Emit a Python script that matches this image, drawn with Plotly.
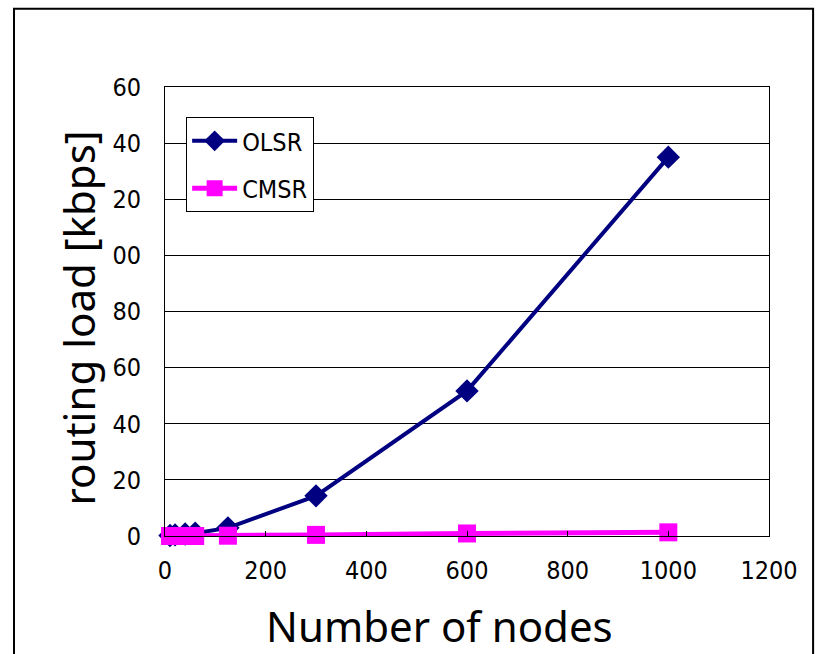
import plotly.graph_objects as go

nodes = [10, 20, 40, 60, 125, 300, 600, 1000]
olsr = [0.2, 0.4, 0.7, 1.0, 2.9, 14.3, 51.7, 135.0]
cmsr = [0.0, 0.0, 0.0, 0.0, 0.1, 0.4, 0.9, 1.3]

y_tickvals = [0, 20, 40, 60, 80, 100, 120, 140, 160]
y_ticktext = ["0", "20", "40", "60", "80", "00", "20", "40", "60"]
x_tickvals = [0, 200, 400, 600, 800, 1000, 1200]

x_title = "Number of nodes"
y_title = "routing load [kbps]"

narrow = "Liberation Sans Narrow, DejaVu Sans Condensed, sans-serif"
tick_font = dict(family=narrow, size=25, color="black")
title_font = dict(family="Noto Sans, Lato, sans-serif", size=42, color="black")

fig = go.Figure()
fig.add_trace(go.Scatter(x=nodes, y=olsr, mode="lines+markers", name="OLSR", legendgroup="a",
                         cliponaxis=False,
                         line=dict(color="#000080", width=4),
                         marker=dict(symbol="diamond", size=18, color="#000080")))
fig.add_trace(go.Scatter(x=nodes, y=cmsr, mode="lines+markers", name="CMSR", legendgroup="b",
                         cliponaxis=False,
                         line=dict(color="#FF00FF", width=5),
                         marker=dict(symbol="square", size=18, color="#FF00FF")))

fig.update_layout(
    width=821, height=654,
    margin=dict(l=165, r=52, t=87, b=118),
    paper_bgcolor="white", plot_bgcolor="white",
    showlegend=True,
    legend=dict(x=0.035, y=0.933, xanchor="left", yanchor="top",
                bgcolor="white", bordercolor="black", borderwidth=1,
                font=dict(family=narrow, size=25, color="black"),
                itemwidth=45, tracegroupgap=12),
    xaxis=dict(range=[0, 1200], tickvals=x_tickvals, ticks="inside", ticklen=5, tickcolor="black",
               showline=True, linecolor="black", linewidth=1, mirror=True, showgrid=False, zeroline=False,
               tickfont=tick_font, ticklabelstandoff=12),
    yaxis=dict(range=[0, 160], tickvals=y_tickvals, ticktext=y_ticktext, ticks="",
               showline=True, linecolor="black", linewidth=1, mirror=True,
               showgrid=True, gridcolor="black", gridwidth=1, zeroline=False,
               tickfont=tick_font, ticklabelstandoff=18),
    annotations=[
        dict(text=x_title, xref="paper", yref="paper", x=0.455, y=-0.2,
             xanchor="center", yanchor="middle", showarrow=False, font=title_font),
        dict(text=y_title, xref="paper", yref="paper", x=-0.143, y=0.486, textangle=-90,
             xanchor="center", yanchor="middle", showarrow=False, font=title_font),
    ],
    shapes=[dict(type="rect", xref="paper", yref="paper",
                 x0=-0.25, x1=1.073, y0=-0.3, y1=1.174,
                 line=dict(color="black", width=2), fillcolor="rgba(0,0,0,0)", layer="below")],
)

fig.write_html("out.html")
